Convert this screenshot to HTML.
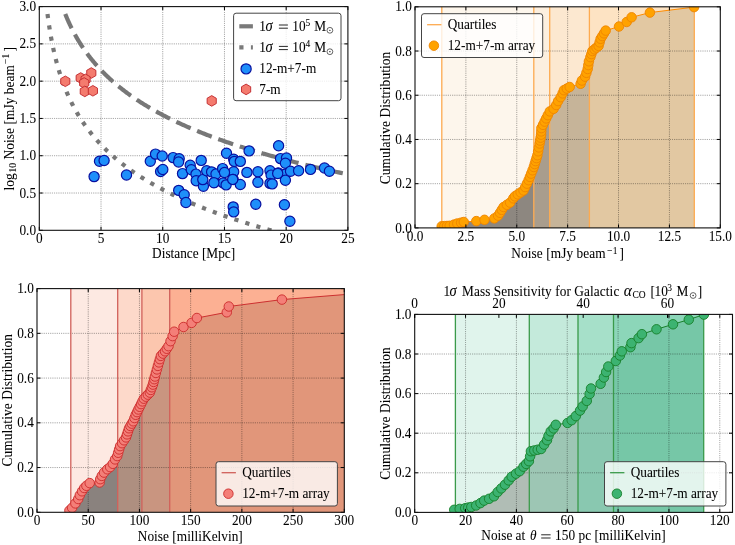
<!DOCTYPE html>
<html><head><meta charset="utf-8"><style>html,body{margin:0;padding:0;background:#fff}svg{display:block;will-change:transform}text{stroke:#000;stroke-width:0.05px}</style></head>
<body><svg width="735" height="545" viewBox="0 0 735 545" font-family='"Liberation Serif", serif' font-size="13.3" fill="#000">
<rect width="735" height="545" fill="#fff"/>
<path d="M101.02 6.60V230.30M162.74 6.60V230.30M224.46 6.60V230.30M286.18 6.60V230.30M39.30 193.02H347.90M39.30 155.73H347.90M39.30 118.45H347.90M39.30 81.17H347.90M39.30 43.88H347.90" stroke="#000" stroke-opacity="0.7" stroke-width="0.7" stroke-dasharray="0.7 1.15" fill="none"/>
<clipPath id="c1"><rect x="39.3" y="6.6" width="308.59999999999997" height="223.70000000000002"/></clipPath>
<g clip-path="url(#c1)">
<polyline points="65.22,13.93 65.22,13.93 65.40,14.39 65.58,14.84 65.77,15.29 65.95,15.74 66.14,16.19 66.33,16.64 66.52,17.09 66.71,17.55 66.90,18.00 67.09,18.45 67.29,18.90 67.48,19.35 67.68,19.80 67.88,20.25 68.08,20.71 68.28,21.16 68.48,21.61 68.68,22.06 68.89,22.51 69.10,22.96 69.31,23.41 69.52,23.87 69.73,24.32 69.94,24.77 70.15,25.22 70.37,25.67 70.59,26.12 70.81,26.57 71.03,27.03 71.25,27.48 71.47,27.93 71.70,28.38 71.92,28.83 72.15,29.28 72.38,29.73 72.61,30.19 72.85,30.64 73.08,31.09 73.32,31.54 73.55,31.99 73.79,32.44 74.04,32.89 74.28,33.35 74.52,33.80 74.77,34.25 75.02,34.70 75.27,35.15 75.52,35.60 75.77,36.05 76.03,36.51 76.28,36.96 76.54,37.41 76.80,37.86 77.07,38.31 77.33,38.76 77.60,39.22 77.86,39.67 78.13,40.12 78.41,40.57 78.68,41.02 78.95,41.47 79.23,41.92 79.51,42.38 79.79,42.83 80.08,43.28 80.36,43.73 80.65,44.18 80.94,44.63 81.23,45.08 81.52,45.54 81.82,45.99 82.11,46.44 82.41,46.89 82.72,47.34 83.02,47.79 83.32,48.24 83.63,48.70 83.94,49.15 84.25,49.60 84.57,50.05 84.89,50.50 85.20,50.95 85.53,51.40 85.85,51.86 86.17,52.31 86.50,52.76 86.83,53.21 87.17,53.66 87.50,54.11 87.84,54.56 88.18,55.02 88.52,55.47 88.86,55.92 89.21,56.37 89.56,56.82 89.91,57.27 90.26,57.72 90.62,58.18 90.98,58.63 91.34,59.08 91.71,59.53 92.07,59.98 92.44,60.43 92.81,60.88 93.19,61.34 93.56,61.79 93.94,62.24 94.33,62.69 94.71,63.14 95.10,63.59 95.49,64.04 95.88,64.50 96.28,64.95 96.68,65.40 97.08,65.85 97.48,66.30 97.89,66.75 98.30,67.20 98.71,67.66 99.13,68.11 99.54,68.56 99.97,69.01 100.39,69.46 100.82,69.91 101.25,70.36 101.68,70.82 102.12,71.27 102.56,71.72 103.00,72.17 103.44,72.62 103.89,73.07 104.35,73.53 104.80,73.98 105.26,74.43 105.72,74.88 106.18,75.33 106.65,75.78 107.12,76.23 107.60,76.69 108.08,77.14 108.56,77.59 109.04,78.04 109.53,78.49 110.02,78.94 110.51,79.39 111.01,79.85 111.51,80.30 112.02,80.75 112.53,81.20 113.04,81.65 113.56,82.10 114.08,82.55 114.60,83.01 115.13,83.46 115.66,83.91 116.19,84.36 116.73,84.81 117.27,85.26 117.81,85.71 118.36,86.17 118.92,86.62 119.47,87.07 120.03,87.52 120.60,87.97 121.17,88.42 121.74,88.87 122.32,89.33 122.90,89.78 123.48,90.23 124.07,90.68 124.66,91.13 125.26,91.58 125.86,92.03 126.47,92.49 127.08,92.94 127.69,93.39 128.31,93.84 128.93,94.29 129.56,94.74 130.19,95.19 130.83,95.65 131.47,96.10 132.11,96.55 132.76,97.00 133.41,97.45 134.07,97.90 134.74,98.35 135.40,98.81 136.07,99.26 136.75,99.71 137.43,100.16 138.12,100.61 138.81,101.06 139.51,101.51 140.21,101.97 140.91,102.42 141.62,102.87 142.34,103.32 143.06,103.77 143.79,104.22 144.52,104.67 145.25,105.13 145.99,105.58 146.74,106.03 147.49,106.48 148.25,106.93 149.01,107.38 149.78,107.83 150.55,108.29 151.33,108.74 152.11,109.19 152.90,109.64 153.70,110.09 154.50,110.54 155.30,111.00 156.11,111.45 156.93,111.90 157.75,112.35 158.58,112.80 159.42,113.25 160.26,113.70 161.10,114.16 161.95,114.61 162.81,115.06 163.68,115.51 164.55,115.96 165.42,116.41 166.30,116.86 167.19,117.32 168.09,117.77 168.99,118.22 169.90,118.67 170.81,119.12 171.73,119.57 172.66,120.02 173.59,120.48 174.53,120.93 175.47,121.38 176.43,121.83 177.38,122.28 178.35,122.73 179.32,123.18 180.30,123.64 181.29,124.09 182.28,124.54 183.28,124.99 184.29,125.44 185.30,125.89 186.32,126.34 187.35,126.80 188.39,127.25 189.43,127.70 190.48,128.15 191.54,128.60 192.60,129.05 193.68,129.50 194.76,129.96 195.84,130.41 196.94,130.86 198.04,131.31 199.15,131.76 200.27,132.21 201.40,132.66 202.53,133.12 203.67,133.57 204.82,134.02 205.98,134.47 207.14,134.92 208.32,135.37 209.50,135.82 210.69,136.28 211.89,136.73 213.10,137.18 214.31,137.63 215.54,138.08 216.77,138.53 218.01,138.98 219.26,139.44 220.52,139.89 221.79,140.34 223.06,140.79 224.35,141.24 225.64,141.69 226.95,142.14 228.26,142.60 229.58,143.05 230.91,143.50 232.25,143.95 233.60,144.40 234.96,144.85 236.33,145.31 237.71,145.76 239.09,146.21 240.49,146.66 241.90,147.11 243.32,147.56 244.74,148.01 246.18,148.47 247.63,148.92 249.08,149.37 250.55,149.82 252.03,150.27 253.52,150.72 255.02,151.17 256.52,151.63 258.04,152.08 259.57,152.53 261.12,152.98 262.67,153.43 264.23,153.88 265.80,154.33 267.39,154.79 268.98,155.24 270.59,155.69 272.21,156.14 273.84,156.59 275.48,157.04 277.13,157.49 278.79,157.95 280.47,158.40 282.15,158.85 283.85,159.30 285.56,159.75 287.28,160.20 289.02,160.65 290.77,161.11 292.53,161.56 294.30,162.01 296.08,162.46 297.88,162.91 299.68,163.36 301.51,163.81 303.34,164.27 305.19,164.72 307.05,165.17 308.92,165.62 310.81,166.07 312.70,166.52 314.62,166.97 316.54,167.43 318.48,167.88 320.43,168.33 322.40,168.78 324.38,169.23 326.37,169.68 328.38,170.13 330.40,170.59 332.44,171.04 334.49,171.49 336.56,171.94 338.64,172.39 340.73,172.84 342.84,173.29 344.96,173.75 347.10,174.20 349.25,174.65 351.42,175.10 353.60,175.55 355.80,176.00 358.01,176.45 360.24,176.91" fill="none" stroke="#777" stroke-width="4.2" stroke-dasharray="15.7 7.0" stroke-dashoffset="0.00"/>
<polyline points="47.50,13.95 47.52,14.11 47.60,14.75 47.68,15.39 47.77,16.03 47.85,16.67 47.94,17.31 48.02,17.95 48.11,18.59 48.20,19.23 48.28,19.87 48.37,20.51 48.46,21.15 48.55,21.79 48.65,22.43 48.74,23.07 48.83,23.71 48.93,24.35 49.02,24.99 49.12,25.63 49.22,26.27 49.31,26.91 49.41,27.55 49.51,28.19 49.62,28.83 49.72,29.47 49.82,30.11 49.93,30.75 50.03,31.39 50.14,32.03 50.25,32.67 50.35,33.31 50.46,33.95 50.57,34.59 50.69,35.23 50.80,35.87 50.91,36.51 51.03,37.15 51.15,37.79 51.26,38.43 51.38,39.06 51.50,39.70 51.62,40.34 51.75,40.98 51.87,41.62 51.99,42.26 52.12,42.90 52.25,43.54 52.38,44.18 52.51,44.82 52.64,45.46 52.77,46.10 52.90,46.74 53.04,47.38 53.17,48.02 53.31,48.66 53.45,49.30 53.59,49.94 53.73,50.58 53.88,51.22 54.02,51.86 54.17,52.50 54.32,53.14 54.46,53.78 54.61,54.42 54.77,55.06 54.92,55.70 55.08,56.34 55.23,56.98 55.39,57.62 55.55,58.26 55.71,58.90 55.87,59.54 56.04,60.18 56.20,60.82 56.37,61.46 56.54,62.10 56.71,62.74 56.89,63.38 57.06,64.02 57.24,64.66 57.41,65.30 57.59,65.94 57.78,66.58 57.96,67.22 58.15,67.86 58.33,68.49 58.52,69.13 58.71,69.77 58.90,70.41 59.10,71.05 59.30,71.69 59.49,72.33 59.69,72.97 59.90,73.61 60.10,74.25 60.31,74.89 60.52,75.53 60.73,76.17 60.94,76.81 61.15,77.45 61.37,78.09 61.59,78.73 61.81,79.37 62.04,80.01 62.26,80.65 62.49,81.29 62.72,81.93 62.95,82.57 63.19,83.21 63.42,83.85 63.66,84.49 63.91,85.13 64.15,85.77 64.40,86.41 64.65,87.05 64.90,87.69 65.15,88.33 65.41,88.97 65.67,89.61 65.93,90.25 66.19,90.89 66.46,91.53 66.73,92.17 67.00,92.81 67.28,93.45 67.55,94.09 67.83,94.73 68.12,95.37 68.40,96.01 68.69,96.65 68.99,97.29 69.28,97.92 69.58,98.56 69.88,99.20 70.18,99.84 70.49,100.48 70.80,101.12 71.11,101.76 71.43,102.40 71.74,103.04 72.07,103.68 72.39,104.32 72.72,104.96 73.05,105.60 73.39,106.24 73.73,106.88 74.07,107.52 74.41,108.16 74.76,108.80 75.11,109.44 75.47,110.08 75.83,110.72 76.19,111.36 76.56,112.00 76.93,112.64 77.30,113.28 77.68,113.92 78.06,114.56 78.44,115.20 78.83,115.84 79.22,116.48 79.62,117.12 80.02,117.76 80.43,118.40 80.83,119.04 81.25,119.68 81.66,120.32 82.08,120.96 82.51,121.60 82.94,122.24 83.37,122.88 83.81,123.52 84.25,124.16 84.69,124.80 85.15,125.44 85.60,126.08 86.06,126.72 86.52,127.36 86.99,127.99 87.47,128.63 87.94,129.27 88.43,129.91 88.92,130.55 89.41,131.19 89.91,131.83 90.41,132.47 90.92,133.11 91.43,133.75 91.95,134.39 92.47,135.03 93.00,135.67 93.53,136.31 94.07,136.95 94.61,137.59 95.16,138.23 95.71,138.87 96.27,139.51 96.84,140.15 97.41,140.79 97.99,141.43 98.57,142.07 99.16,142.71 99.75,143.35 100.35,143.99 100.96,144.63 101.57,145.27 102.19,145.91 102.81,146.55 103.44,147.19 104.08,147.83 104.72,148.47 105.37,149.11 106.03,149.75 106.69,150.39 107.36,151.03 108.04,151.67 108.72,152.31 109.41,152.95 110.10,153.59 110.81,154.23 111.52,154.87 112.23,155.51 112.96,156.15 113.69,156.79 114.43,157.42 115.17,158.06 115.93,158.70 116.69,159.34 117.46,159.98 118.23,160.62 119.01,161.26 119.81,161.90 120.61,162.54 121.41,163.18 122.23,163.82 123.05,164.46 123.88,165.10 124.72,165.74 125.57,166.38 126.43,167.02 127.29,167.66 128.16,168.30 129.05,168.94 129.94,169.58 130.84,170.22 131.75,170.86 132.66,171.50 133.59,172.14 134.53,172.78 135.47,173.42 136.43,174.06 137.39,174.70 138.36,175.34 139.35,175.98 140.34,176.62 141.34,177.26 142.36,177.90 143.38,178.54 144.41,179.18 145.46,179.82 146.51,180.46 147.58,181.10 148.65,181.74 149.74,182.38 150.83,183.02 151.94,183.66 153.06,184.30 154.19,184.94 155.33,185.58 156.48,186.22 157.64,186.85 158.82,187.49 160.00,188.13 161.20,188.77 162.41,189.41 163.63,190.05 164.87,190.69 166.11,191.33 167.37,191.97 168.64,192.61 169.93,193.25 171.23,193.89 172.54,194.53 173.86,195.17 175.19,195.81 176.54,196.45 177.90,197.09 179.28,197.73 180.67,198.37 182.07,199.01 183.49,199.65 184.92,200.29 186.37,200.93 187.83,201.57 189.30,202.21 190.79,202.85 192.30,203.49 193.81,204.13 195.35,204.77 196.90,205.41 198.46,206.05 200.04,206.69 201.64,207.33 203.25,207.97 204.88,208.61 206.52,209.25 208.18,209.89 209.86,210.53 211.55,211.17 213.26,211.81 214.99,212.45 216.73,213.09 218.49,213.73 220.27,214.37 222.07,215.01 223.88,215.65 225.71,216.28 227.56,216.92 229.43,217.56 231.32,218.20 233.23,218.84 235.15,219.48 237.10,220.12 239.06,220.76 241.04,221.40 243.05,222.04 245.07,222.68 247.11,223.32 249.17,223.96 251.26,224.60 253.36,225.24 255.49,225.88 257.63,226.52 259.80,227.16 261.99,227.80 264.20,228.44 266.43,229.08 268.69,229.72 270.96,230.36 273.26,231.00 275.59,231.64 277.93,232.28 280.30,232.92 282.69,233.56 285.11,234.20 287.55,234.84 290.01,235.48 292.50,236.12 295.02,236.76 297.56,237.40 300.12,238.04 302.71,238.68 305.32,239.32 307.96,239.96 310.63,240.60 313.32,241.24 316.04,241.88 318.79,242.52 321.57,243.16 324.37,243.80 327.20,244.44 330.06,245.08 332.94,245.71 335.86,246.35 338.80,246.99 341.77,247.63 344.78,248.27 347.81,248.91 350.87,249.55 353.97,250.19 357.09,250.83 360.24,251.47" fill="none" stroke="#777" stroke-width="4.2" stroke-dasharray="4.2 7.27" stroke-dashoffset="0.00"/>
<path d="M65.30,76.00L69.89,78.65L69.89,83.95L65.30,86.60L60.71,83.95L60.71,78.65Z" fill="#f47b6e" stroke="#c0262a" stroke-width="0.9"/>
<path d="M91.30,67.70L95.89,70.35L95.89,75.65L91.30,78.30L86.71,75.65L86.71,70.35Z" fill="#f47b6e" stroke="#c0262a" stroke-width="0.9"/>
<path d="M80.70,72.70L85.29,75.35L85.29,80.65L80.70,83.30L76.11,80.65L76.11,75.35Z" fill="#f47b6e" stroke="#c0262a" stroke-width="0.9"/>
<path d="M85.60,74.10L90.19,76.75L90.19,82.05L85.60,84.70L81.01,82.05L81.01,76.75Z" fill="#f47b6e" stroke="#c0262a" stroke-width="0.9"/>
<path d="M84.20,77.70L88.79,80.35L88.79,85.65L84.20,88.30L79.61,85.65L79.61,80.35Z" fill="#f47b6e" stroke="#c0262a" stroke-width="0.9"/>
<path d="M84.80,86.10L89.39,88.75L89.39,94.05L84.80,96.70L80.21,94.05L80.21,88.75Z" fill="#f47b6e" stroke="#c0262a" stroke-width="0.9"/>
<path d="M92.90,85.50L97.49,88.15L97.49,93.45L92.90,96.10L88.31,93.45L88.31,88.15Z" fill="#f47b6e" stroke="#c0262a" stroke-width="0.9"/>
<path d="M211.70,95.60L216.29,98.25L216.29,103.55L211.70,106.20L207.11,103.55L207.11,98.25Z" fill="#f47b6e" stroke="#c0262a" stroke-width="0.9"/>
<circle cx="94.1" cy="176.6" r="5.1" fill="#1e8ffa" stroke="#0810a0" stroke-width="1.2"/>
<circle cx="99.5" cy="161.2" r="5.1" fill="#1e8ffa" stroke="#0810a0" stroke-width="1.2"/>
<circle cx="104.1" cy="160.5" r="5.1" fill="#1e8ffa" stroke="#0810a0" stroke-width="1.2"/>
<circle cx="126.5" cy="175.0" r="5.1" fill="#1e8ffa" stroke="#0810a0" stroke-width="1.2"/>
<circle cx="150.3" cy="161.2" r="5.1" fill="#1e8ffa" stroke="#0810a0" stroke-width="1.2"/>
<circle cx="155.5" cy="154.1" r="5.1" fill="#1e8ffa" stroke="#0810a0" stroke-width="1.2"/>
<circle cx="162.2" cy="156.0" r="5.1" fill="#1e8ffa" stroke="#0810a0" stroke-width="1.2"/>
<circle cx="160.6" cy="171.5" r="5.1" fill="#1e8ffa" stroke="#0810a0" stroke-width="1.2"/>
<circle cx="162.8" cy="169.5" r="5.1" fill="#1e8ffa" stroke="#0810a0" stroke-width="1.2"/>
<circle cx="173.1" cy="157.6" r="5.1" fill="#1e8ffa" stroke="#0810a0" stroke-width="1.2"/>
<circle cx="179.2" cy="158.7" r="5.1" fill="#1e8ffa" stroke="#0810a0" stroke-width="1.2"/>
<circle cx="178.6" cy="162" r="5.1" fill="#1e8ffa" stroke="#0810a0" stroke-width="1.2"/>
<circle cx="182.5" cy="173.6" r="5.1" fill="#1e8ffa" stroke="#0810a0" stroke-width="1.2"/>
<circle cx="190.2" cy="165.3" r="5.1" fill="#1e8ffa" stroke="#0810a0" stroke-width="1.2"/>
<circle cx="191.3" cy="169.7" r="5.1" fill="#1e8ffa" stroke="#0810a0" stroke-width="1.2"/>
<circle cx="196" cy="174.1" r="5.1" fill="#1e8ffa" stroke="#0810a0" stroke-width="1.2"/>
<circle cx="196.2" cy="180.7" r="5.1" fill="#1e8ffa" stroke="#0810a0" stroke-width="1.2"/>
<circle cx="201.2" cy="160.4" r="5.1" fill="#1e8ffa" stroke="#0810a0" stroke-width="1.2"/>
<circle cx="203.4" cy="186.2" r="5.1" fill="#1e8ffa" stroke="#0810a0" stroke-width="1.2"/>
<circle cx="202.8" cy="179.6" r="5.1" fill="#1e8ffa" stroke="#0810a0" stroke-width="1.2"/>
<circle cx="206.7" cy="170.8" r="5.1" fill="#1e8ffa" stroke="#0810a0" stroke-width="1.2"/>
<circle cx="211.6" cy="171.9" r="5.1" fill="#1e8ffa" stroke="#0810a0" stroke-width="1.2"/>
<circle cx="214.4" cy="182.4" r="5.1" fill="#1e8ffa" stroke="#0810a0" stroke-width="1.2"/>
<circle cx="216" cy="174" r="5.1" fill="#1e8ffa" stroke="#0810a0" stroke-width="1.2"/>
<circle cx="222.6" cy="168.6" r="5.1" fill="#1e8ffa" stroke="#0810a0" stroke-width="1.2"/>
<circle cx="223.2" cy="182.9" r="5.1" fill="#1e8ffa" stroke="#0810a0" stroke-width="1.2"/>
<circle cx="226.5" cy="153.2" r="5.1" fill="#1e8ffa" stroke="#0810a0" stroke-width="1.2"/>
<circle cx="178.7" cy="190.4" r="5.1" fill="#1e8ffa" stroke="#0810a0" stroke-width="1.2"/>
<circle cx="184.2" cy="194.8" r="5.1" fill="#1e8ffa" stroke="#0810a0" stroke-width="1.2"/>
<circle cx="185.9" cy="202.5" r="5.1" fill="#1e8ffa" stroke="#0810a0" stroke-width="1.2"/>
<circle cx="249.1" cy="150.9" r="5.1" fill="#1e8ffa" stroke="#0810a0" stroke-width="1.2"/>
<circle cx="278.6" cy="145.7" r="5.1" fill="#1e8ffa" stroke="#0810a0" stroke-width="1.2"/>
<circle cx="233.7" cy="159.2" r="5.1" fill="#1e8ffa" stroke="#0810a0" stroke-width="1.2"/>
<circle cx="234.3" cy="161.4" r="5.1" fill="#1e8ffa" stroke="#0810a0" stroke-width="1.2"/>
<circle cx="240.3" cy="161.4" r="5.1" fill="#1e8ffa" stroke="#0810a0" stroke-width="1.2"/>
<circle cx="233.7" cy="171.8" r="5.1" fill="#1e8ffa" stroke="#0810a0" stroke-width="1.2"/>
<circle cx="246.9" cy="172.4" r="5.1" fill="#1e8ffa" stroke="#0810a0" stroke-width="1.2"/>
<circle cx="257.9" cy="171.8" r="5.1" fill="#1e8ffa" stroke="#0810a0" stroke-width="1.2"/>
<circle cx="233.2" cy="179.5" r="5.1" fill="#1e8ffa" stroke="#0810a0" stroke-width="1.2"/>
<circle cx="240.3" cy="184.5" r="5.1" fill="#1e8ffa" stroke="#0810a0" stroke-width="1.2"/>
<circle cx="257.9" cy="182.3" r="5.1" fill="#1e8ffa" stroke="#0810a0" stroke-width="1.2"/>
<circle cx="270" cy="170.7" r="5.1" fill="#1e8ffa" stroke="#0810a0" stroke-width="1.2"/>
<circle cx="271.1" cy="175.1" r="5.1" fill="#1e8ffa" stroke="#0810a0" stroke-width="1.2"/>
<circle cx="270" cy="183.4" r="5.1" fill="#1e8ffa" stroke="#0810a0" stroke-width="1.2"/>
<circle cx="278.3" cy="172.9" r="5.1" fill="#1e8ffa" stroke="#0810a0" stroke-width="1.2"/>
<circle cx="280.5" cy="158.6" r="5.1" fill="#1e8ffa" stroke="#0810a0" stroke-width="1.2"/>
<circle cx="286.5" cy="158" r="5.1" fill="#1e8ffa" stroke="#0810a0" stroke-width="1.2"/>
<circle cx="285.4" cy="163.3" r="5.1" fill="#1e8ffa" stroke="#0810a0" stroke-width="1.2"/>
<circle cx="285.4" cy="174.3" r="5.1" fill="#1e8ffa" stroke="#0810a0" stroke-width="1.2"/>
<circle cx="285.4" cy="180.3" r="5.1" fill="#1e8ffa" stroke="#0810a0" stroke-width="1.2"/>
<circle cx="290.5" cy="171.2" r="5.1" fill="#1e8ffa" stroke="#0810a0" stroke-width="1.2"/>
<circle cx="298.6" cy="170.7" r="5.1" fill="#1e8ffa" stroke="#0810a0" stroke-width="1.2"/>
<circle cx="310.5" cy="169.4" r="5.1" fill="#1e8ffa" stroke="#0810a0" stroke-width="1.2"/>
<circle cx="324.5" cy="168" r="5.1" fill="#1e8ffa" stroke="#0810a0" stroke-width="1.2"/>
<circle cx="329.4" cy="171.3" r="5.1" fill="#1e8ffa" stroke="#0810a0" stroke-width="1.2"/>
<circle cx="233.2" cy="206.9" r="5.1" fill="#1e8ffa" stroke="#0810a0" stroke-width="1.2"/>
<circle cx="233.7" cy="211.9" r="5.1" fill="#1e8ffa" stroke="#0810a0" stroke-width="1.2"/>
<circle cx="255.8" cy="204.2" r="5.1" fill="#1e8ffa" stroke="#0810a0" stroke-width="1.2"/>
<circle cx="284.4" cy="204.7" r="5.1" fill="#1e8ffa" stroke="#0810a0" stroke-width="1.2"/>
<circle cx="289.9" cy="221.2" r="5.1" fill="#1e8ffa" stroke="#0810a0" stroke-width="1.2"/>
<circle cx="213.9" cy="182.7" r="5.1" fill="#1e8ffa" stroke="#0810a0" stroke-width="1.2"/>
<circle cx="272.2" cy="183.9" r="5.1" fill="#1e8ffa" stroke="#0810a0" stroke-width="1.2"/>
<circle cx="277.7" cy="173.5" r="5.1" fill="#1e8ffa" stroke="#0810a0" stroke-width="1.2"/>
<circle cx="226.1" cy="184.9" r="5.1" fill="#1e8ffa" stroke="#0810a0" stroke-width="1.2"/>
<circle cx="232.7" cy="179.4" r="5.1" fill="#1e8ffa" stroke="#0810a0" stroke-width="1.2"/>
<circle cx="224.5" cy="172.5" r="5.1" fill="#1e8ffa" stroke="#0810a0" stroke-width="1.2"/>
</g>
<path d="M39.30 230.30v-3.5M39.30 6.60v3.5M101.02 230.30v-3.5M101.02 6.60v3.5M162.74 230.30v-3.5M162.74 6.60v3.5M224.46 230.30v-3.5M224.46 6.60v3.5M286.18 230.30v-3.5M286.18 6.60v3.5M347.90 230.30v-3.5M347.90 6.60v3.5M39.30 230.30h3.5M347.90 230.30h-3.5M39.30 193.02h3.5M347.90 193.02h-3.5M39.30 155.73h3.5M347.90 155.73h-3.5M39.30 118.45h3.5M347.90 118.45h-3.5M39.30 81.17h3.5M347.90 81.17h-3.5M39.30 43.88h3.5M347.90 43.88h-3.5M39.30 6.60h3.5M347.90 6.60h-3.5" stroke="#000" stroke-width="1" fill="none"/>
<rect x="39.30" y="6.60" width="308.60" height="223.70" fill="none" stroke="#111" stroke-width="1.1"/>
<text transform="translate(39.30 243.30) scale(1 1.08)" text-anchor="middle">0</text>
<text transform="translate(101.02 243.30) scale(1 1.08)" text-anchor="middle">5</text>
<text transform="translate(162.74 243.30) scale(1 1.08)" text-anchor="middle">10</text>
<text transform="translate(224.46 243.30) scale(1 1.08)" text-anchor="middle">15</text>
<text transform="translate(286.18 243.30) scale(1 1.08)" text-anchor="middle">20</text>
<text transform="translate(347.90 243.30) scale(1 1.08)" text-anchor="middle">25</text>
<text transform="translate(36.10 234.90) scale(1 1.08)" text-anchor="end">0.0</text>
<text transform="translate(36.10 197.62) scale(1 1.08)" text-anchor="end">0.5</text>
<text transform="translate(36.10 160.33) scale(1 1.08)" text-anchor="end">1.0</text>
<text transform="translate(36.10 123.05) scale(1 1.08)" text-anchor="end">1.5</text>
<text transform="translate(36.10 85.77) scale(1 1.08)" text-anchor="end">2.0</text>
<text transform="translate(36.10 48.48) scale(1 1.08)" text-anchor="end">2.5</text>
<text transform="translate(36.10 11.20) scale(1 1.08)" text-anchor="end">3.0</text>
<rect x="233.6" y="13.2" width="107.4" height="87.5" rx="2.5" fill="#fff" fill-opacity="0.8" stroke="#444" stroke-width="1"/>
<path d="M239.3 26.3H252.9" stroke="#7a7a7a" stroke-width="4.2"/>
<path d="M239.3 47.4H252.9" stroke="#7a7a7a" stroke-width="4.2" stroke-dasharray="4.2 7.4"/>
<circle cx="246.1" cy="68.9" r="5.1" fill="#1e8ffa" stroke="#0810a0" stroke-width="1.2"/>
<path d="M246.10,84.10L250.69,86.75L250.69,92.05L246.10,94.70L241.51,92.05L241.51,86.75Z" fill="#f47b6e" stroke="#c0262a" stroke-width="0.9"/>
<text transform="translate(259.20 30.60) scale(1 1.08)">1</text>
<text transform="translate(265.60 30.60) scale(1 1.08)" font-size="14.5" font-style="italic">σ</text>
<path d="M278.9 25.0H287.9M278.9 28.200000000000003H287.9" stroke="#000" stroke-width="0.85"/>
<text transform="translate(292.30 30.60) scale(1 1.08)">10</text>
<text transform="translate(305.40 26.00) scale(1 1.08)" font-size="9.5">5</text>
<text transform="translate(314.20 30.60) scale(1 1.08)">M</text>
<circle cx="329.9" cy="30.3" r="2.9" fill="none" stroke="#000" stroke-width="0.6"/><circle cx="329.9" cy="30.3" r="0.65"/>
<text transform="translate(259.20 52.00) scale(1 1.08)">1</text>
<text transform="translate(265.60 52.00) scale(1 1.08)" font-size="14.5" font-style="italic">σ</text>
<path d="M278.9 46.4H287.9M278.9 49.6H287.9" stroke="#000" stroke-width="0.85"/>
<text transform="translate(292.30 52.00) scale(1 1.08)">10</text>
<text transform="translate(305.40 47.40) scale(1 1.08)" font-size="9.5">4</text>
<text transform="translate(314.20 52.00) scale(1 1.08)">M</text>
<circle cx="329.9" cy="51.7" r="2.9" fill="none" stroke="#000" stroke-width="0.6"/><circle cx="329.9" cy="51.7" r="0.65"/>
<text transform="translate(259.30 73.00) scale(1 1.08)">12-m+7-m</text>
<text transform="translate(259.30 94.40) scale(1 1.08)">7-m</text>
<text transform="translate(193.60 258.20) scale(1 1.08)" text-anchor="middle">Distance [Mpc]</text>
<g transform="translate(13.6 0) rotate(-90)">
<text transform="translate(-190.40 0.00) scale(1 1.08)">log</text>
<text transform="translate(-172.40 2.60) scale(1 1.08)" font-size="9.5">10</text>
<text transform="translate(-159.40 0.00) scale(1 1.08)" textLength="94.3" lengthAdjust="spacing">Noise [mJy beam</text>
<text transform="translate(-63.90 -4.40) scale(1 1.08)" font-size="9.5">−1</text>
<text transform="translate(-51.40 0.00) scale(1 1.08)">]</text>
</g>
<clipPath id="c2"><rect x="415.0" y="6.8" width="305.29999999999995" height="221.1"/></clipPath>
<g clip-path="url(#c2)">
<rect x="441.8" y="6.8" width="91.99999999999994" height="221.1" fill="#fdf6ec"/>
<rect x="533.8" y="6.8" width="15.900000000000091" height="221.1" fill="#fcefdf"/>
<rect x="549.7" y="6.8" width="39.69999999999993" height="221.1" fill="#fce8d0"/>
<rect x="589.4" y="6.8" width="104.89999999999998" height="221.1" fill="#fde3c3"/>
<clipPath id="c2r0"><rect x="441.8" y="6.8" width="91.99999999999994" height="224.1"/></clipPath>
<polygon points="441.70,226.30 449.70,225.80 454.00,224.60 457.30,223.50 461.10,222.70 463.80,222.00 476.30,221.10 484.50,219.80 494.30,218.40 498.10,215.70 503.60,207.00 510.10,202.60 513.30,198.30 514.90,196.30 523.50,190.50 528.60,180.20 533.80,167.00 537.40,155.20 539.60,143.50 541.10,134.70 541.40,128.10 544.60,121.60 547.80,115.20 549.80,111.40 553.60,108.80 556.20,105.00 558.10,101.10 560.70,97.20 562.60,93.40 563.90,90.20 569.70,87.00 580.60,83.80 581.90,80.50 585.10,76.70 586.40,72.80 587.70,69.00 588.30,65.10 588.90,61.30 590.40,57.10 592.40,51.00 598.60,45.90 600.60,38.80 605.70,30.60 619.00,26.50 626.70,22.00 631.60,17.30 649.90,12.60 694.10,7.10 694.10,229.9 441.70,229.9" fill="#8d8780" clip-path="url(#c2r0)"/>
<clipPath id="c2r1"><rect x="533.8" y="6.8" width="15.900000000000091" height="224.1"/></clipPath>
<polygon points="441.70,226.30 449.70,225.80 454.00,224.60 457.30,223.50 461.10,222.70 463.80,222.00 476.30,221.10 484.50,219.80 494.30,218.40 498.10,215.70 503.60,207.00 510.10,202.60 513.30,198.30 514.90,196.30 523.50,190.50 528.60,180.20 533.80,167.00 537.40,155.20 539.60,143.50 541.10,134.70 541.40,128.10 544.60,121.60 547.80,115.20 549.80,111.40 553.60,108.80 556.20,105.00 558.10,101.10 560.70,97.20 562.60,93.40 563.90,90.20 569.70,87.00 580.60,83.80 581.90,80.50 585.10,76.70 586.40,72.80 587.70,69.00 588.30,65.10 588.90,61.30 590.40,57.10 592.40,51.00 598.60,45.90 600.60,38.80 605.70,30.60 619.00,26.50 626.70,22.00 631.60,17.30 649.90,12.60 694.10,7.10 694.10,229.9 441.70,229.9" fill="#a99d8d" clip-path="url(#c2r1)"/>
<clipPath id="c2r2"><rect x="549.7" y="6.8" width="39.69999999999993" height="224.1"/></clipPath>
<polygon points="441.70,226.30 449.70,225.80 454.00,224.60 457.30,223.50 461.10,222.70 463.80,222.00 476.30,221.10 484.50,219.80 494.30,218.40 498.10,215.70 503.60,207.00 510.10,202.60 513.30,198.30 514.90,196.30 523.50,190.50 528.60,180.20 533.80,167.00 537.40,155.20 539.60,143.50 541.10,134.70 541.40,128.10 544.60,121.60 547.80,115.20 549.80,111.40 553.60,108.80 556.20,105.00 558.10,101.10 560.70,97.20 562.60,93.40 563.90,90.20 569.70,87.00 580.60,83.80 581.90,80.50 585.10,76.70 586.40,72.80 587.70,69.00 588.30,65.10 588.90,61.30 590.40,57.10 592.40,51.00 598.60,45.90 600.60,38.80 605.70,30.60 619.00,26.50 626.70,22.00 631.60,17.30 649.90,12.60 694.10,7.10 694.10,229.9 441.70,229.9" fill="#c6b499" clip-path="url(#c2r2)"/>
<clipPath id="c2r3"><rect x="589.4" y="6.8" width="104.89999999999998" height="224.1"/></clipPath>
<polygon points="441.70,226.30 449.70,225.80 454.00,224.60 457.30,223.50 461.10,222.70 463.80,222.00 476.30,221.10 484.50,219.80 494.30,218.40 498.10,215.70 503.60,207.00 510.10,202.60 513.30,198.30 514.90,196.30 523.50,190.50 528.60,180.20 533.80,167.00 537.40,155.20 539.60,143.50 541.10,134.70 541.40,128.10 544.60,121.60 547.80,115.20 549.80,111.40 553.60,108.80 556.20,105.00 558.10,101.10 560.70,97.20 562.60,93.40 563.90,90.20 569.70,87.00 580.60,83.80 581.90,80.50 585.10,76.70 586.40,72.80 587.70,69.00 588.30,65.10 588.90,61.30 590.40,57.10 592.40,51.00 598.60,45.90 600.60,38.80 605.70,30.60 619.00,26.50 626.70,22.00 631.60,17.30 649.90,12.60 694.10,7.10 694.10,229.9 441.70,229.9" fill="#e2c8a2" clip-path="url(#c2r3)"/>
</g>
<path d="M465.88 6.80V227.90M516.77 6.80V227.90M567.65 6.80V227.90M618.53 6.80V227.90M669.42 6.80V227.90M415.00 183.68H720.30M415.00 139.46H720.30M415.00 95.24H720.30M415.00 51.02H720.30" stroke="#000" stroke-opacity="0.7" stroke-width="0.7" stroke-dasharray="0.7 1.15" fill="none"/>
<g clip-path="url(#c2)">
<path d="M441.8 6.8V227.9" stroke="#fdaa50" stroke-width="1.3"/>
<path d="M533.8 6.8V227.9" stroke="#fdaa50" stroke-width="1.3"/>
<path d="M549.7 6.8V227.9" stroke="#fdaa50" stroke-width="1.3"/>
<path d="M589.4 6.8V227.9" stroke="#fdaa50" stroke-width="1.3"/>
<path d="M694.3 6.8V227.9" stroke="#fdaa50" stroke-width="1.3"/>
<polyline points="441.70,226.30 449.70,225.80 454.00,224.60 457.30,223.50 461.10,222.70 463.80,222.00 476.30,221.10 484.50,219.80 494.30,218.40 498.10,215.70 503.60,207.00 510.10,202.60 513.30,198.30 514.90,196.30 523.50,190.50 528.60,180.20 533.80,167.00 537.40,155.20 539.60,143.50 541.10,134.70 541.40,128.10 544.60,121.60 547.80,115.20 549.80,111.40 553.60,108.80 556.20,105.00 558.10,101.10 560.70,97.20 562.60,93.40 563.90,90.20 569.70,87.00 580.60,83.80 581.90,80.50 585.10,76.70 586.40,72.80 587.70,69.00 588.30,65.10 588.90,61.30 590.40,57.10 592.40,51.00 598.60,45.90 600.60,38.80 605.70,30.60 619.00,26.50 626.70,22.00 631.60,17.30 649.90,12.60 694.10,7.10" fill="none" stroke="#ff8c00" stroke-width="1"/>
<circle cx="441.70" cy="226.30" r="4.75" fill="#ffa200" stroke="#ee8400" stroke-width="0.9"/>
<circle cx="444.37" cy="226.13" r="4.75" fill="#ffa200" stroke="#ee8400" stroke-width="0.9"/>
<circle cx="447.03" cy="225.97" r="4.75" fill="#ffa200" stroke="#ee8400" stroke-width="0.9"/>
<circle cx="449.70" cy="225.80" r="4.75" fill="#ffa200" stroke="#ee8400" stroke-width="0.9"/>
<circle cx="454.00" cy="224.60" r="4.75" fill="#ffa200" stroke="#ee8400" stroke-width="0.9"/>
<circle cx="457.30" cy="223.50" r="4.75" fill="#ffa200" stroke="#ee8400" stroke-width="0.9"/>
<circle cx="461.10" cy="222.70" r="4.75" fill="#ffa200" stroke="#ee8400" stroke-width="0.9"/>
<circle cx="463.80" cy="222.00" r="4.75" fill="#ffa200" stroke="#ee8400" stroke-width="0.9"/>
<circle cx="476.30" cy="221.10" r="4.75" fill="#ffa200" stroke="#ee8400" stroke-width="0.9"/>
<circle cx="484.50" cy="219.80" r="4.75" fill="#ffa200" stroke="#ee8400" stroke-width="0.9"/>
<circle cx="494.30" cy="218.40" r="4.75" fill="#ffa200" stroke="#ee8400" stroke-width="0.9"/>
<circle cx="498.10" cy="215.70" r="4.75" fill="#ffa200" stroke="#ee8400" stroke-width="0.9"/>
<circle cx="499.93" cy="212.80" r="4.75" fill="#ffa200" stroke="#ee8400" stroke-width="0.9"/>
<circle cx="501.77" cy="209.90" r="4.75" fill="#ffa200" stroke="#ee8400" stroke-width="0.9"/>
<circle cx="503.60" cy="207.00" r="4.75" fill="#ffa200" stroke="#ee8400" stroke-width="0.9"/>
<circle cx="506.85" cy="204.80" r="4.75" fill="#ffa200" stroke="#ee8400" stroke-width="0.9"/>
<circle cx="510.10" cy="202.60" r="4.75" fill="#ffa200" stroke="#ee8400" stroke-width="0.9"/>
<circle cx="513.30" cy="198.30" r="4.75" fill="#ffa200" stroke="#ee8400" stroke-width="0.9"/>
<circle cx="514.90" cy="196.30" r="4.75" fill="#ffa200" stroke="#ee8400" stroke-width="0.9"/>
<circle cx="517.77" cy="194.37" r="4.75" fill="#ffa200" stroke="#ee8400" stroke-width="0.9"/>
<circle cx="520.63" cy="192.43" r="4.75" fill="#ffa200" stroke="#ee8400" stroke-width="0.9"/>
<circle cx="523.50" cy="190.50" r="4.75" fill="#ffa200" stroke="#ee8400" stroke-width="0.9"/>
<circle cx="525.20" cy="187.07" r="4.75" fill="#ffa200" stroke="#ee8400" stroke-width="0.9"/>
<circle cx="526.90" cy="183.63" r="4.75" fill="#ffa200" stroke="#ee8400" stroke-width="0.9"/>
<circle cx="528.60" cy="180.20" r="4.75" fill="#ffa200" stroke="#ee8400" stroke-width="0.9"/>
<circle cx="529.90" cy="176.90" r="4.75" fill="#ffa200" stroke="#ee8400" stroke-width="0.9"/>
<circle cx="531.20" cy="173.60" r="4.75" fill="#ffa200" stroke="#ee8400" stroke-width="0.9"/>
<circle cx="532.50" cy="170.30" r="4.75" fill="#ffa200" stroke="#ee8400" stroke-width="0.9"/>
<circle cx="533.80" cy="167.00" r="4.75" fill="#ffa200" stroke="#ee8400" stroke-width="0.9"/>
<circle cx="534.70" cy="164.05" r="4.75" fill="#ffa200" stroke="#ee8400" stroke-width="0.9"/>
<circle cx="535.60" cy="161.10" r="4.75" fill="#ffa200" stroke="#ee8400" stroke-width="0.9"/>
<circle cx="536.50" cy="158.15" r="4.75" fill="#ffa200" stroke="#ee8400" stroke-width="0.9"/>
<circle cx="537.40" cy="155.20" r="4.75" fill="#ffa200" stroke="#ee8400" stroke-width="0.9"/>
<circle cx="538.13" cy="151.30" r="4.75" fill="#ffa200" stroke="#ee8400" stroke-width="0.9"/>
<circle cx="538.87" cy="147.40" r="4.75" fill="#ffa200" stroke="#ee8400" stroke-width="0.9"/>
<circle cx="539.60" cy="143.50" r="4.75" fill="#ffa200" stroke="#ee8400" stroke-width="0.9"/>
<circle cx="540.10" cy="140.57" r="4.75" fill="#ffa200" stroke="#ee8400" stroke-width="0.9"/>
<circle cx="540.60" cy="137.63" r="4.75" fill="#ffa200" stroke="#ee8400" stroke-width="0.9"/>
<circle cx="541.10" cy="134.70" r="4.75" fill="#ffa200" stroke="#ee8400" stroke-width="0.9"/>
<circle cx="541.25" cy="131.40" r="4.75" fill="#ffa200" stroke="#ee8400" stroke-width="0.9"/>
<circle cx="541.40" cy="128.10" r="4.75" fill="#ffa200" stroke="#ee8400" stroke-width="0.9"/>
<circle cx="543.00" cy="124.85" r="4.75" fill="#ffa200" stroke="#ee8400" stroke-width="0.9"/>
<circle cx="544.60" cy="121.60" r="4.75" fill="#ffa200" stroke="#ee8400" stroke-width="0.9"/>
<circle cx="546.20" cy="118.40" r="4.75" fill="#ffa200" stroke="#ee8400" stroke-width="0.9"/>
<circle cx="547.80" cy="115.20" r="4.75" fill="#ffa200" stroke="#ee8400" stroke-width="0.9"/>
<circle cx="549.80" cy="111.40" r="4.75" fill="#ffa200" stroke="#ee8400" stroke-width="0.9"/>
<circle cx="553.60" cy="108.80" r="4.75" fill="#ffa200" stroke="#ee8400" stroke-width="0.9"/>
<circle cx="556.20" cy="105.00" r="4.75" fill="#ffa200" stroke="#ee8400" stroke-width="0.9"/>
<circle cx="558.10" cy="101.10" r="4.75" fill="#ffa200" stroke="#ee8400" stroke-width="0.9"/>
<circle cx="560.70" cy="97.20" r="4.75" fill="#ffa200" stroke="#ee8400" stroke-width="0.9"/>
<circle cx="562.60" cy="93.40" r="4.75" fill="#ffa200" stroke="#ee8400" stroke-width="0.9"/>
<circle cx="563.90" cy="90.20" r="4.75" fill="#ffa200" stroke="#ee8400" stroke-width="0.9"/>
<circle cx="566.80" cy="88.60" r="4.75" fill="#ffa200" stroke="#ee8400" stroke-width="0.9"/>
<circle cx="569.70" cy="87.00" r="4.75" fill="#ffa200" stroke="#ee8400" stroke-width="0.9"/>
<circle cx="580.60" cy="83.80" r="4.75" fill="#ffa200" stroke="#ee8400" stroke-width="0.9"/>
<circle cx="581.90" cy="80.50" r="4.75" fill="#ffa200" stroke="#ee8400" stroke-width="0.9"/>
<circle cx="585.10" cy="76.70" r="4.75" fill="#ffa200" stroke="#ee8400" stroke-width="0.9"/>
<circle cx="586.40" cy="72.80" r="4.75" fill="#ffa200" stroke="#ee8400" stroke-width="0.9"/>
<circle cx="587.70" cy="69.00" r="4.75" fill="#ffa200" stroke="#ee8400" stroke-width="0.9"/>
<circle cx="588.30" cy="65.10" r="4.75" fill="#ffa200" stroke="#ee8400" stroke-width="0.9"/>
<circle cx="588.90" cy="61.30" r="4.75" fill="#ffa200" stroke="#ee8400" stroke-width="0.9"/>
<circle cx="590.40" cy="57.10" r="4.75" fill="#ffa200" stroke="#ee8400" stroke-width="0.9"/>
<circle cx="591.40" cy="54.05" r="4.75" fill="#ffa200" stroke="#ee8400" stroke-width="0.9"/>
<circle cx="592.40" cy="51.00" r="4.75" fill="#ffa200" stroke="#ee8400" stroke-width="0.9"/>
<circle cx="594.47" cy="49.30" r="4.75" fill="#ffa200" stroke="#ee8400" stroke-width="0.9"/>
<circle cx="596.53" cy="47.60" r="4.75" fill="#ffa200" stroke="#ee8400" stroke-width="0.9"/>
<circle cx="598.60" cy="45.90" r="4.75" fill="#ffa200" stroke="#ee8400" stroke-width="0.9"/>
<circle cx="599.60" cy="42.35" r="4.75" fill="#ffa200" stroke="#ee8400" stroke-width="0.9"/>
<circle cx="600.60" cy="38.80" r="4.75" fill="#ffa200" stroke="#ee8400" stroke-width="0.9"/>
<circle cx="602.30" cy="36.07" r="4.75" fill="#ffa200" stroke="#ee8400" stroke-width="0.9"/>
<circle cx="604.00" cy="33.33" r="4.75" fill="#ffa200" stroke="#ee8400" stroke-width="0.9"/>
<circle cx="605.70" cy="30.60" r="4.75" fill="#ffa200" stroke="#ee8400" stroke-width="0.9"/>
<circle cx="619.00" cy="26.50" r="4.75" fill="#ffa200" stroke="#ee8400" stroke-width="0.9"/>
<circle cx="626.70" cy="22.00" r="4.75" fill="#ffa200" stroke="#ee8400" stroke-width="0.9"/>
<circle cx="631.60" cy="17.30" r="4.75" fill="#ffa200" stroke="#ee8400" stroke-width="0.9"/>
<circle cx="649.90" cy="12.60" r="4.75" fill="#ffa200" stroke="#ee8400" stroke-width="0.9"/>
<circle cx="694.10" cy="7.10" r="4.75" fill="#ffa200" stroke="#ee8400" stroke-width="0.9"/>
</g>
<path d="M415.00 227.90v-3.5M415.00 6.80v3.5M465.88 227.90v-3.5M465.88 6.80v3.5M516.77 227.90v-3.5M516.77 6.80v3.5M567.65 227.90v-3.5M567.65 6.80v3.5M618.53 227.90v-3.5M618.53 6.80v3.5M669.42 227.90v-3.5M669.42 6.80v3.5M720.30 227.90v-3.5M720.30 6.80v3.5M415.00 227.90h3.5M720.30 227.90h-3.5M415.00 183.68h3.5M720.30 183.68h-3.5M415.00 139.46h3.5M720.30 139.46h-3.5M415.00 95.24h3.5M720.30 95.24h-3.5M415.00 51.02h3.5M720.30 51.02h-3.5M415.00 6.80h3.5M720.30 6.80h-3.5" stroke="#000" stroke-width="1" fill="none"/>
<rect x="415.00" y="6.80" width="305.30" height="221.10" fill="none" stroke="#111" stroke-width="1.1"/>
<text transform="translate(415.00 240.90) scale(1 1.08)" text-anchor="middle">0.0</text>
<text transform="translate(465.88 240.90) scale(1 1.08)" text-anchor="middle">2.5</text>
<text transform="translate(516.77 240.90) scale(1 1.08)" text-anchor="middle">5.0</text>
<text transform="translate(567.65 240.90) scale(1 1.08)" text-anchor="middle">7.5</text>
<text transform="translate(618.53 240.90) scale(1 1.08)" text-anchor="middle">10.0</text>
<text transform="translate(669.42 240.90) scale(1 1.08)" text-anchor="middle">12.5</text>
<text transform="translate(720.30 240.90) scale(1 1.08)" text-anchor="middle">15.0</text>
<text transform="translate(411.80 232.50) scale(1 1.08)" text-anchor="end">0.0</text>
<text transform="translate(411.80 188.28) scale(1 1.08)" text-anchor="end">0.2</text>
<text transform="translate(411.80 144.06) scale(1 1.08)" text-anchor="end">0.4</text>
<text transform="translate(411.80 99.84) scale(1 1.08)" text-anchor="end">0.6</text>
<text transform="translate(411.80 55.62) scale(1 1.08)" text-anchor="end">0.8</text>
<text transform="translate(411.80 11.40) scale(1 1.08)" text-anchor="end">1.0</text>
<rect x="421.5" y="13.7" width="121.2" height="43.8" rx="2.5" fill="#fff" fill-opacity="0.8" stroke="#444" stroke-width="1"/>
<path d="M427.1 24.7h14.3" stroke="#fdaa50" stroke-width="1.3"/>
<circle cx="433.9" cy="45.7" r="4.75" fill="#ffa200" stroke="#ee8400" stroke-width="0.9"/>
<text transform="translate(447.70 29.30) scale(1 1.08)">Quartiles</text>
<text transform="translate(447.70 49.90) scale(1 1.08)">12-m+7-m array</text>
<clipPath id="c3"><rect x="37.0" y="288.6" width="307.3" height="223.69999999999993"/></clipPath>
<g clip-path="url(#c3)">
<rect x="70.8" y="288.6" width="46.900000000000006" height="223.69999999999993" fill="#fde9e2"/>
<rect x="117.7" y="288.6" width="24.200000000000003" height="223.69999999999993" fill="#fdd9ca"/>
<rect x="141.9" y="288.6" width="27.799999999999983" height="223.69999999999993" fill="#fcc6ae"/>
<rect x="169.7" y="288.6" width="230.3" height="223.69999999999993" fill="#fcb093"/>
<clipPath id="c3r0"><rect x="70.8" y="288.6" width="46.900000000000006" height="226.69999999999993"/></clipPath>
<polygon points="69.40,510.60 72.10,507.80 75.40,503.40 78.20,499.00 79.80,495.20 82.00,491.30 84.20,488.00 86.40,485.80 89.70,483.10 99.60,482.50 100.20,479.20 101.80,475.90 104.00,472.60 107.30,469.30 110.10,467.10 112.80,463.80 115.00,459.40 117.20,456.10 120.10,446.10 126.00,437.40 129.00,428.30 133.20,421.30 135.70,414.80 139.70,406.80 143.80,398.70 149.80,392.60 152.90,384.60 154.90,376.50 156.90,369.40 158.90,362.40 160.90,355.90 165.00,351.30 168.50,346.20 170.50,341.20 172.60,336.10 174.20,331.70 183.50,327.00 191.60,322.90 196.90,318.00 226.80,312.30 228.80,306.50 281.90,299.60 420.00,288.50 420.00,514.3 69.40,514.3" fill="#8a827e" clip-path="url(#c3r0)"/>
<clipPath id="c3r1"><rect x="117.7" y="288.6" width="24.200000000000003" height="226.69999999999993"/></clipPath>
<polygon points="69.40,510.60 72.10,507.80 75.40,503.40 78.20,499.00 79.80,495.20 82.00,491.30 84.20,488.00 86.40,485.80 89.70,483.10 99.60,482.50 100.20,479.20 101.80,475.90 104.00,472.60 107.30,469.30 110.10,467.10 112.80,463.80 115.00,459.40 117.20,456.10 120.10,446.10 126.00,437.40 129.00,428.30 133.20,421.30 135.70,414.80 139.70,406.80 143.80,398.70 149.80,392.60 152.90,384.60 154.90,376.50 156.90,369.40 158.90,362.40 160.90,355.90 165.00,351.30 168.50,346.20 170.50,341.20 172.60,336.10 174.20,331.70 183.50,327.00 191.60,322.90 196.90,318.00 226.80,312.30 228.80,306.50 281.90,299.60 420.00,288.50 420.00,514.3 69.40,514.3" fill="#ae8f80" clip-path="url(#c3r1)"/>
<clipPath id="c3r2"><rect x="141.9" y="288.6" width="27.799999999999983" height="226.69999999999993"/></clipPath>
<polygon points="69.40,510.60 72.10,507.80 75.40,503.40 78.20,499.00 79.80,495.20 82.00,491.30 84.20,488.00 86.40,485.80 89.70,483.10 99.60,482.50 100.20,479.20 101.80,475.90 104.00,472.60 107.30,469.30 110.10,467.10 112.80,463.80 115.00,459.40 117.20,456.10 120.10,446.10 126.00,437.40 129.00,428.30 133.20,421.30 135.70,414.80 139.70,406.80 143.80,398.70 149.80,392.60 152.90,384.60 154.90,376.50 156.90,369.40 158.90,362.40 160.90,355.90 165.00,351.30 168.50,346.20 170.50,341.20 172.60,336.10 174.20,331.70 183.50,327.00 191.60,322.90 196.90,318.00 226.80,312.30 228.80,306.50 281.90,299.60 420.00,288.50 420.00,514.3 69.40,514.3" fill="#c99580" clip-path="url(#c3r2)"/>
<clipPath id="c3r3"><rect x="169.7" y="288.6" width="230.3" height="226.69999999999993"/></clipPath>
<polygon points="69.40,510.60 72.10,507.80 75.40,503.40 78.20,499.00 79.80,495.20 82.00,491.30 84.20,488.00 86.40,485.80 89.70,483.10 99.60,482.50 100.20,479.20 101.80,475.90 104.00,472.60 107.30,469.30 110.10,467.10 112.80,463.80 115.00,459.40 117.20,456.10 120.10,446.10 126.00,437.40 129.00,428.30 133.20,421.30 135.70,414.80 139.70,406.80 143.80,398.70 149.80,392.60 152.90,384.60 154.90,376.50 156.90,369.40 158.90,362.40 160.90,355.90 165.00,351.30 168.50,346.20 170.50,341.20 172.60,336.10 174.20,331.70 183.50,327.00 191.60,322.90 196.90,318.00 226.80,312.30 228.80,306.50 281.90,299.60 420.00,288.50 420.00,514.3 69.40,514.3" fill="#e1967a" clip-path="url(#c3r3)"/>
</g>
<path d="M88.22 288.60V512.30M139.43 288.60V512.30M190.65 288.60V512.30M241.87 288.60V512.30M293.08 288.60V512.30M37.00 467.56H344.30M37.00 422.82H344.30M37.00 378.08H344.30M37.00 333.34H344.30" stroke="#000" stroke-opacity="0.7" stroke-width="0.7" stroke-dasharray="0.7 1.15" fill="none"/>
<g clip-path="url(#c3)">
<path d="M70.8 288.6V512.3" stroke="#d0605a" stroke-width="1.3"/>
<path d="M117.7 288.6V512.3" stroke="#d0605a" stroke-width="1.3"/>
<path d="M141.9 288.6V512.3" stroke="#d0605a" stroke-width="1.3"/>
<path d="M169.7 288.6V512.3" stroke="#d0605a" stroke-width="1.3"/>
<path d="M400 288.6V512.3" stroke="#d0605a" stroke-width="1.3"/>
<polyline points="69.40,510.60 72.10,507.80 75.40,503.40 78.20,499.00 79.80,495.20 82.00,491.30 84.20,488.00 86.40,485.80 89.70,483.10 99.60,482.50 100.20,479.20 101.80,475.90 104.00,472.60 107.30,469.30 110.10,467.10 112.80,463.80 115.00,459.40 117.20,456.10 120.10,446.10 126.00,437.40 129.00,428.30 133.20,421.30 135.70,414.80 139.70,406.80 143.80,398.70 149.80,392.60 152.90,384.60 154.90,376.50 156.90,369.40 158.90,362.40 160.90,355.90 165.00,351.30 168.50,346.20 170.50,341.20 172.60,336.10 174.20,331.70 183.50,327.00 191.60,322.90 196.90,318.00 226.80,312.30 228.80,306.50 281.90,299.60 420.00,288.50" fill="none" stroke="#cc3030" stroke-width="1"/>
<circle cx="69.40" cy="510.60" r="4.75" fill="#f47f78" stroke="#cc2b2b" stroke-width="0.9"/>
<circle cx="72.10" cy="507.80" r="4.75" fill="#f47f78" stroke="#cc2b2b" stroke-width="0.9"/>
<circle cx="75.40" cy="503.40" r="4.75" fill="#f47f78" stroke="#cc2b2b" stroke-width="0.9"/>
<circle cx="78.20" cy="499.00" r="4.75" fill="#f47f78" stroke="#cc2b2b" stroke-width="0.9"/>
<circle cx="79.80" cy="495.20" r="4.75" fill="#f47f78" stroke="#cc2b2b" stroke-width="0.9"/>
<circle cx="82.00" cy="491.30" r="4.75" fill="#f47f78" stroke="#cc2b2b" stroke-width="0.9"/>
<circle cx="84.20" cy="488.00" r="4.75" fill="#f47f78" stroke="#cc2b2b" stroke-width="0.9"/>
<circle cx="86.40" cy="485.80" r="4.75" fill="#f47f78" stroke="#cc2b2b" stroke-width="0.9"/>
<circle cx="89.70" cy="483.10" r="4.75" fill="#f47f78" stroke="#cc2b2b" stroke-width="0.9"/>
<circle cx="99.60" cy="482.50" r="4.75" fill="#f47f78" stroke="#cc2b2b" stroke-width="0.9"/>
<circle cx="100.20" cy="479.20" r="4.75" fill="#f47f78" stroke="#cc2b2b" stroke-width="0.9"/>
<circle cx="101.80" cy="475.90" r="4.75" fill="#f47f78" stroke="#cc2b2b" stroke-width="0.9"/>
<circle cx="104.00" cy="472.60" r="4.75" fill="#f47f78" stroke="#cc2b2b" stroke-width="0.9"/>
<circle cx="107.30" cy="469.30" r="4.75" fill="#f47f78" stroke="#cc2b2b" stroke-width="0.9"/>
<circle cx="110.10" cy="467.10" r="4.75" fill="#f47f78" stroke="#cc2b2b" stroke-width="0.9"/>
<circle cx="112.80" cy="463.80" r="4.75" fill="#f47f78" stroke="#cc2b2b" stroke-width="0.9"/>
<circle cx="115.00" cy="459.40" r="4.75" fill="#f47f78" stroke="#cc2b2b" stroke-width="0.9"/>
<circle cx="117.20" cy="456.10" r="4.75" fill="#f47f78" stroke="#cc2b2b" stroke-width="0.9"/>
<circle cx="118.17" cy="452.77" r="4.75" fill="#f47f78" stroke="#cc2b2b" stroke-width="0.9"/>
<circle cx="119.13" cy="449.43" r="4.75" fill="#f47f78" stroke="#cc2b2b" stroke-width="0.9"/>
<circle cx="120.10" cy="446.10" r="4.75" fill="#f47f78" stroke="#cc2b2b" stroke-width="0.9"/>
<circle cx="122.07" cy="443.20" r="4.75" fill="#f47f78" stroke="#cc2b2b" stroke-width="0.9"/>
<circle cx="124.03" cy="440.30" r="4.75" fill="#f47f78" stroke="#cc2b2b" stroke-width="0.9"/>
<circle cx="126.00" cy="437.40" r="4.75" fill="#f47f78" stroke="#cc2b2b" stroke-width="0.9"/>
<circle cx="127.00" cy="434.37" r="4.75" fill="#f47f78" stroke="#cc2b2b" stroke-width="0.9"/>
<circle cx="128.00" cy="431.33" r="4.75" fill="#f47f78" stroke="#cc2b2b" stroke-width="0.9"/>
<circle cx="129.00" cy="428.30" r="4.75" fill="#f47f78" stroke="#cc2b2b" stroke-width="0.9"/>
<circle cx="130.40" cy="425.97" r="4.75" fill="#f47f78" stroke="#cc2b2b" stroke-width="0.9"/>
<circle cx="131.80" cy="423.63" r="4.75" fill="#f47f78" stroke="#cc2b2b" stroke-width="0.9"/>
<circle cx="133.20" cy="421.30" r="4.75" fill="#f47f78" stroke="#cc2b2b" stroke-width="0.9"/>
<circle cx="134.45" cy="418.05" r="4.75" fill="#f47f78" stroke="#cc2b2b" stroke-width="0.9"/>
<circle cx="135.70" cy="414.80" r="4.75" fill="#f47f78" stroke="#cc2b2b" stroke-width="0.9"/>
<circle cx="137.03" cy="412.13" r="4.75" fill="#f47f78" stroke="#cc2b2b" stroke-width="0.9"/>
<circle cx="138.37" cy="409.47" r="4.75" fill="#f47f78" stroke="#cc2b2b" stroke-width="0.9"/>
<circle cx="139.70" cy="406.80" r="4.75" fill="#f47f78" stroke="#cc2b2b" stroke-width="0.9"/>
<circle cx="141.07" cy="404.10" r="4.75" fill="#f47f78" stroke="#cc2b2b" stroke-width="0.9"/>
<circle cx="142.43" cy="401.40" r="4.75" fill="#f47f78" stroke="#cc2b2b" stroke-width="0.9"/>
<circle cx="143.80" cy="398.70" r="4.75" fill="#f47f78" stroke="#cc2b2b" stroke-width="0.9"/>
<circle cx="145.80" cy="396.67" r="4.75" fill="#f47f78" stroke="#cc2b2b" stroke-width="0.9"/>
<circle cx="147.80" cy="394.63" r="4.75" fill="#f47f78" stroke="#cc2b2b" stroke-width="0.9"/>
<circle cx="149.80" cy="392.60" r="4.75" fill="#f47f78" stroke="#cc2b2b" stroke-width="0.9"/>
<circle cx="150.83" cy="389.93" r="4.75" fill="#f47f78" stroke="#cc2b2b" stroke-width="0.9"/>
<circle cx="151.87" cy="387.27" r="4.75" fill="#f47f78" stroke="#cc2b2b" stroke-width="0.9"/>
<circle cx="152.90" cy="384.60" r="4.75" fill="#f47f78" stroke="#cc2b2b" stroke-width="0.9"/>
<circle cx="153.57" cy="381.90" r="4.75" fill="#f47f78" stroke="#cc2b2b" stroke-width="0.9"/>
<circle cx="154.23" cy="379.20" r="4.75" fill="#f47f78" stroke="#cc2b2b" stroke-width="0.9"/>
<circle cx="154.90" cy="376.50" r="4.75" fill="#f47f78" stroke="#cc2b2b" stroke-width="0.9"/>
<circle cx="155.90" cy="372.95" r="4.75" fill="#f47f78" stroke="#cc2b2b" stroke-width="0.9"/>
<circle cx="156.90" cy="369.40" r="4.75" fill="#f47f78" stroke="#cc2b2b" stroke-width="0.9"/>
<circle cx="157.90" cy="365.90" r="4.75" fill="#f47f78" stroke="#cc2b2b" stroke-width="0.9"/>
<circle cx="158.90" cy="362.40" r="4.75" fill="#f47f78" stroke="#cc2b2b" stroke-width="0.9"/>
<circle cx="159.90" cy="359.15" r="4.75" fill="#f47f78" stroke="#cc2b2b" stroke-width="0.9"/>
<circle cx="160.90" cy="355.90" r="4.75" fill="#f47f78" stroke="#cc2b2b" stroke-width="0.9"/>
<circle cx="162.95" cy="353.60" r="4.75" fill="#f47f78" stroke="#cc2b2b" stroke-width="0.9"/>
<circle cx="165.00" cy="351.30" r="4.75" fill="#f47f78" stroke="#cc2b2b" stroke-width="0.9"/>
<circle cx="166.75" cy="348.75" r="4.75" fill="#f47f78" stroke="#cc2b2b" stroke-width="0.9"/>
<circle cx="168.50" cy="346.20" r="4.75" fill="#f47f78" stroke="#cc2b2b" stroke-width="0.9"/>
<circle cx="170.50" cy="341.20" r="4.75" fill="#f47f78" stroke="#cc2b2b" stroke-width="0.9"/>
<circle cx="172.60" cy="336.10" r="4.75" fill="#f47f78" stroke="#cc2b2b" stroke-width="0.9"/>
<circle cx="174.20" cy="331.70" r="4.75" fill="#f47f78" stroke="#cc2b2b" stroke-width="0.9"/>
<circle cx="183.50" cy="327.00" r="4.75" fill="#f47f78" stroke="#cc2b2b" stroke-width="0.9"/>
<circle cx="191.60" cy="322.90" r="4.75" fill="#f47f78" stroke="#cc2b2b" stroke-width="0.9"/>
<circle cx="196.90" cy="318.00" r="4.75" fill="#f47f78" stroke="#cc2b2b" stroke-width="0.9"/>
<circle cx="226.80" cy="312.30" r="4.75" fill="#f47f78" stroke="#cc2b2b" stroke-width="0.9"/>
<circle cx="228.80" cy="306.50" r="4.75" fill="#f47f78" stroke="#cc2b2b" stroke-width="0.9"/>
<circle cx="281.90" cy="299.60" r="4.75" fill="#f47f78" stroke="#cc2b2b" stroke-width="0.9"/>
</g>
<path d="M37.00 512.30v-3.5M37.00 288.60v3.5M88.22 512.30v-3.5M88.22 288.60v3.5M139.43 512.30v-3.5M139.43 288.60v3.5M190.65 512.30v-3.5M190.65 288.60v3.5M241.87 512.30v-3.5M241.87 288.60v3.5M293.08 512.30v-3.5M293.08 288.60v3.5M344.30 512.30v-3.5M344.30 288.60v3.5M37.00 512.30h3.5M344.30 512.30h-3.5M37.00 467.56h3.5M344.30 467.56h-3.5M37.00 422.82h3.5M344.30 422.82h-3.5M37.00 378.08h3.5M344.30 378.08h-3.5M37.00 333.34h3.5M344.30 333.34h-3.5M37.00 288.60h3.5M344.30 288.60h-3.5" stroke="#000" stroke-width="1" fill="none"/>
<rect x="37.00" y="288.60" width="307.30" height="223.70" fill="none" stroke="#111" stroke-width="1.1"/>
<text transform="translate(37.00 525.30) scale(1 1.08)" text-anchor="middle">0</text>
<text transform="translate(88.22 525.30) scale(1 1.08)" text-anchor="middle">50</text>
<text transform="translate(139.43 525.30) scale(1 1.08)" text-anchor="middle">100</text>
<text transform="translate(190.65 525.30) scale(1 1.08)" text-anchor="middle">150</text>
<text transform="translate(241.87 525.30) scale(1 1.08)" text-anchor="middle">200</text>
<text transform="translate(293.08 525.30) scale(1 1.08)" text-anchor="middle">250</text>
<text transform="translate(344.30 525.30) scale(1 1.08)" text-anchor="middle">300</text>
<text transform="translate(33.80 516.90) scale(1 1.08)" text-anchor="end">0.0</text>
<text transform="translate(33.80 472.16) scale(1 1.08)" text-anchor="end">0.2</text>
<text transform="translate(33.80 427.42) scale(1 1.08)" text-anchor="end">0.4</text>
<text transform="translate(33.80 382.68) scale(1 1.08)" text-anchor="end">0.6</text>
<text transform="translate(33.80 337.94) scale(1 1.08)" text-anchor="end">0.8</text>
<text transform="translate(33.80 293.20) scale(1 1.08)" text-anchor="end">1.0</text>
<rect x="216" y="461.7" width="121.4" height="44.3" rx="2.5" fill="#fff" fill-opacity="0.8" stroke="#444" stroke-width="1"/>
<path d="M221.6 472.7h14.3" stroke="#d0605a" stroke-width="1.3"/>
<circle cx="228.4" cy="493.7" r="4.75" fill="#f47f78" stroke="#cc2b2b" stroke-width="0.9"/>
<text transform="translate(242.20 477.30) scale(1 1.08)">Quartiles</text>
<text transform="translate(242.20 497.90) scale(1 1.08)">12-m+7-m array</text>
<clipPath id="c4"><rect x="414.7" y="314.4" width="317.8" height="198.0"/></clipPath>
<g clip-path="url(#c4)">
<rect x="455.4" y="314.4" width="73.89999999999998" height="198.0" fill="#e0f4ec"/>
<rect x="529.3" y="314.4" width="48.700000000000045" height="198.0" fill="#c4eadb"/>
<rect x="578.0" y="314.4" width="35.5" height="198.0" fill="#a6e0c9"/>
<rect x="613.5" y="314.4" width="90.20000000000005" height="198.0" fill="#8cd6b9"/>
<clipPath id="c4r0"><rect x="455.4" y="314.4" width="73.89999999999998" height="201.0"/></clipPath>
<polygon points="454.20,509.80 459.70,508.90 465.20,508.20 471.30,507.00 476.20,505.50 480.50,503.10 484.20,500.60 489.10,498.80 494.00,496.30 497.70,492.00 501.30,488.40 505.00,484.70 508.70,480.40 511.70,476.70 516.00,473.70 519.70,471.20 523.50,466.70 528.90,461.20 530.10,456.30 530.90,451.20 541.10,449.00 544.10,444.60 547.00,440.20 548.50,435.80 550.70,431.40 553.60,428.40 555.80,424.80 567.50,423.00 571.70,420.20 575.80,416.10 580.00,410.60 582.70,406.40 586.80,400.90 589.60,394.00 591.00,388.50 600.60,383.80 603.90,377.50 606.10,372.00 608.30,366.50 615.80,361.00 619.90,355.50 621.80,351.30 630.40,347.20 631.50,343.10 638.60,338.10 641.90,334.20 656.50,329.30 673.00,324.30 688.80,319.60 703.90,314.60 703.90,514.4 454.20,514.4" fill="#b0bdb5" clip-path="url(#c4r0)"/>
<clipPath id="c4r1"><rect x="529.3" y="314.4" width="48.700000000000045" height="201.0"/></clipPath>
<polygon points="454.20,509.80 459.70,508.90 465.20,508.20 471.30,507.00 476.20,505.50 480.50,503.10 484.20,500.60 489.10,498.80 494.00,496.30 497.70,492.00 501.30,488.40 505.00,484.70 508.70,480.40 511.70,476.70 516.00,473.70 519.70,471.20 523.50,466.70 528.90,461.20 530.10,456.30 530.90,451.20 541.10,449.00 544.10,444.60 547.00,440.20 548.50,435.80 550.70,431.40 553.60,428.40 555.80,424.80 567.50,423.00 571.70,420.20 575.80,416.10 580.00,410.60 582.70,406.40 586.80,400.90 589.60,394.00 591.00,388.50 600.60,383.80 603.90,377.50 606.10,372.00 608.30,366.50 615.80,361.00 619.90,355.50 621.80,351.30 630.40,347.20 631.50,343.10 638.60,338.10 641.90,334.20 656.50,329.30 673.00,324.30 688.80,319.60 703.90,314.60 703.90,514.4 454.20,514.4" fill="#9dc6b4" clip-path="url(#c4r1)"/>
<clipPath id="c4r2"><rect x="578.0" y="314.4" width="35.5" height="201.0"/></clipPath>
<polygon points="454.20,509.80 459.70,508.90 465.20,508.20 471.30,507.00 476.20,505.50 480.50,503.10 484.20,500.60 489.10,498.80 494.00,496.30 497.70,492.00 501.30,488.40 505.00,484.70 508.70,480.40 511.70,476.70 516.00,473.70 519.70,471.20 523.50,466.70 528.90,461.20 530.10,456.30 530.90,451.20 541.10,449.00 544.10,444.60 547.00,440.20 548.50,435.80 550.70,431.40 553.60,428.40 555.80,424.80 567.50,423.00 571.70,420.20 575.80,416.10 580.00,410.60 582.70,406.40 586.80,400.90 589.60,394.00 591.00,388.50 600.60,383.80 603.90,377.50 606.10,372.00 608.30,366.50 615.80,361.00 619.90,355.50 621.80,351.30 630.40,347.20 631.50,343.10 638.60,338.10 641.90,334.20 656.50,329.30 673.00,324.30 688.80,319.60 703.90,314.60 703.90,514.4 454.20,514.4" fill="#89c8b0" clip-path="url(#c4r2)"/>
<clipPath id="c4r3"><rect x="613.5" y="314.4" width="90.20000000000005" height="201.0"/></clipPath>
<polygon points="454.20,509.80 459.70,508.90 465.20,508.20 471.30,507.00 476.20,505.50 480.50,503.10 484.20,500.60 489.10,498.80 494.00,496.30 497.70,492.00 501.30,488.40 505.00,484.70 508.70,480.40 511.70,476.70 516.00,473.70 519.70,471.20 523.50,466.70 528.90,461.20 530.10,456.30 530.90,451.20 541.10,449.00 544.10,444.60 547.00,440.20 548.50,435.80 550.70,431.40 553.60,428.40 555.80,424.80 567.50,423.00 571.70,420.20 575.80,416.10 580.00,410.60 582.70,406.40 586.80,400.90 589.60,394.00 591.00,388.50 600.60,383.80 603.90,377.50 606.10,372.00 608.30,366.50 615.80,361.00 619.90,355.50 621.80,351.30 630.40,347.20 631.50,343.10 638.60,338.10 641.90,334.20 656.50,329.30 673.00,324.30 688.80,319.60 703.90,314.60 703.90,514.4 454.20,514.4" fill="#76c7a7" clip-path="url(#c4r3)"/>
</g>
<path d="M465.55 314.40V512.40M516.40 314.40V512.40M567.24 314.40V512.40M618.09 314.40V512.40M668.94 314.40V512.40M719.79 314.40V512.40M414.70 472.80H732.50M414.70 433.20H732.50M414.70 393.60H732.50M414.70 354.00H732.50" stroke="#000" stroke-opacity="0.7" stroke-width="0.7" stroke-dasharray="0.7 1.15" fill="none"/>
<g clip-path="url(#c4)">
<path d="M455.4 314.4V512.4" stroke="#3a9a4a" stroke-width="1.3"/>
<path d="M529.3 314.4V512.4" stroke="#3a9a4a" stroke-width="1.3"/>
<path d="M578.0 314.4V512.4" stroke="#3a9a4a" stroke-width="1.3"/>
<path d="M613.5 314.4V512.4" stroke="#3a9a4a" stroke-width="1.3"/>
<path d="M703.7 314.4V512.4" stroke="#3a9a4a" stroke-width="1.3"/>
<polyline points="454.20,509.80 459.70,508.90 465.20,508.20 471.30,507.00 476.20,505.50 480.50,503.10 484.20,500.60 489.10,498.80 494.00,496.30 497.70,492.00 501.30,488.40 505.00,484.70 508.70,480.40 511.70,476.70 516.00,473.70 519.70,471.20 523.50,466.70 528.90,461.20 530.10,456.30 530.90,451.20 541.10,449.00 544.10,444.60 547.00,440.20 548.50,435.80 550.70,431.40 553.60,428.40 555.80,424.80 567.50,423.00 571.70,420.20 575.80,416.10 580.00,410.60 582.70,406.40 586.80,400.90 589.60,394.00 591.00,388.50 600.60,383.80 603.90,377.50 606.10,372.00 608.30,366.50 615.80,361.00 619.90,355.50 621.80,351.30 630.40,347.20 631.50,343.10 638.60,338.10 641.90,334.20 656.50,329.30 673.00,324.30 688.80,319.60 703.90,314.60" fill="none" stroke="#17802a" stroke-width="1"/>
<circle cx="454.20" cy="509.80" r="4.75" fill="#3cb371" stroke="#17802a" stroke-width="0.9"/>
<circle cx="459.70" cy="508.90" r="4.75" fill="#3cb371" stroke="#17802a" stroke-width="0.9"/>
<circle cx="465.20" cy="508.20" r="4.75" fill="#3cb371" stroke="#17802a" stroke-width="0.9"/>
<circle cx="468.25" cy="507.60" r="4.75" fill="#3cb371" stroke="#17802a" stroke-width="0.9"/>
<circle cx="471.30" cy="507.00" r="4.75" fill="#3cb371" stroke="#17802a" stroke-width="0.9"/>
<circle cx="476.20" cy="505.50" r="4.75" fill="#3cb371" stroke="#17802a" stroke-width="0.9"/>
<circle cx="480.50" cy="503.10" r="4.75" fill="#3cb371" stroke="#17802a" stroke-width="0.9"/>
<circle cx="484.20" cy="500.60" r="4.75" fill="#3cb371" stroke="#17802a" stroke-width="0.9"/>
<circle cx="489.10" cy="498.80" r="4.75" fill="#3cb371" stroke="#17802a" stroke-width="0.9"/>
<circle cx="494.00" cy="496.30" r="4.75" fill="#3cb371" stroke="#17802a" stroke-width="0.9"/>
<circle cx="497.70" cy="492.00" r="4.75" fill="#3cb371" stroke="#17802a" stroke-width="0.9"/>
<circle cx="501.30" cy="488.40" r="4.75" fill="#3cb371" stroke="#17802a" stroke-width="0.9"/>
<circle cx="505.00" cy="484.70" r="4.75" fill="#3cb371" stroke="#17802a" stroke-width="0.9"/>
<circle cx="508.70" cy="480.40" r="4.75" fill="#3cb371" stroke="#17802a" stroke-width="0.9"/>
<circle cx="511.70" cy="476.70" r="4.75" fill="#3cb371" stroke="#17802a" stroke-width="0.9"/>
<circle cx="516.00" cy="473.70" r="4.75" fill="#3cb371" stroke="#17802a" stroke-width="0.9"/>
<circle cx="519.70" cy="471.20" r="4.75" fill="#3cb371" stroke="#17802a" stroke-width="0.9"/>
<circle cx="523.50" cy="466.70" r="4.75" fill="#3cb371" stroke="#17802a" stroke-width="0.9"/>
<circle cx="526.20" cy="463.95" r="4.75" fill="#3cb371" stroke="#17802a" stroke-width="0.9"/>
<circle cx="528.90" cy="461.20" r="4.75" fill="#3cb371" stroke="#17802a" stroke-width="0.9"/>
<circle cx="530.10" cy="456.30" r="4.75" fill="#3cb371" stroke="#17802a" stroke-width="0.9"/>
<circle cx="530.90" cy="451.20" r="4.75" fill="#3cb371" stroke="#17802a" stroke-width="0.9"/>
<circle cx="534.30" cy="450.47" r="4.75" fill="#3cb371" stroke="#17802a" stroke-width="0.9"/>
<circle cx="537.70" cy="449.73" r="4.75" fill="#3cb371" stroke="#17802a" stroke-width="0.9"/>
<circle cx="541.10" cy="449.00" r="4.75" fill="#3cb371" stroke="#17802a" stroke-width="0.9"/>
<circle cx="544.10" cy="444.60" r="4.75" fill="#3cb371" stroke="#17802a" stroke-width="0.9"/>
<circle cx="547.00" cy="440.20" r="4.75" fill="#3cb371" stroke="#17802a" stroke-width="0.9"/>
<circle cx="548.50" cy="435.80" r="4.75" fill="#3cb371" stroke="#17802a" stroke-width="0.9"/>
<circle cx="550.70" cy="431.40" r="4.75" fill="#3cb371" stroke="#17802a" stroke-width="0.9"/>
<circle cx="553.60" cy="428.40" r="4.75" fill="#3cb371" stroke="#17802a" stroke-width="0.9"/>
<circle cx="555.80" cy="424.80" r="4.75" fill="#3cb371" stroke="#17802a" stroke-width="0.9"/>
<circle cx="567.50" cy="423.00" r="4.75" fill="#3cb371" stroke="#17802a" stroke-width="0.9"/>
<circle cx="571.70" cy="420.20" r="4.75" fill="#3cb371" stroke="#17802a" stroke-width="0.9"/>
<circle cx="575.80" cy="416.10" r="4.75" fill="#3cb371" stroke="#17802a" stroke-width="0.9"/>
<circle cx="580.00" cy="410.60" r="4.75" fill="#3cb371" stroke="#17802a" stroke-width="0.9"/>
<circle cx="582.70" cy="406.40" r="4.75" fill="#3cb371" stroke="#17802a" stroke-width="0.9"/>
<circle cx="586.80" cy="400.90" r="4.75" fill="#3cb371" stroke="#17802a" stroke-width="0.9"/>
<circle cx="589.60" cy="394.00" r="4.75" fill="#3cb371" stroke="#17802a" stroke-width="0.9"/>
<circle cx="591.00" cy="388.50" r="4.75" fill="#3cb371" stroke="#17802a" stroke-width="0.9"/>
<circle cx="600.60" cy="383.80" r="4.75" fill="#3cb371" stroke="#17802a" stroke-width="0.9"/>
<circle cx="603.90" cy="377.50" r="4.75" fill="#3cb371" stroke="#17802a" stroke-width="0.9"/>
<circle cx="606.10" cy="372.00" r="4.75" fill="#3cb371" stroke="#17802a" stroke-width="0.9"/>
<circle cx="608.30" cy="366.50" r="4.75" fill="#3cb371" stroke="#17802a" stroke-width="0.9"/>
<circle cx="615.80" cy="361.00" r="4.75" fill="#3cb371" stroke="#17802a" stroke-width="0.9"/>
<circle cx="619.90" cy="355.50" r="4.75" fill="#3cb371" stroke="#17802a" stroke-width="0.9"/>
<circle cx="621.80" cy="351.30" r="4.75" fill="#3cb371" stroke="#17802a" stroke-width="0.9"/>
<circle cx="630.40" cy="347.20" r="4.75" fill="#3cb371" stroke="#17802a" stroke-width="0.9"/>
<circle cx="631.50" cy="343.10" r="4.75" fill="#3cb371" stroke="#17802a" stroke-width="0.9"/>
<circle cx="638.60" cy="338.10" r="4.75" fill="#3cb371" stroke="#17802a" stroke-width="0.9"/>
<circle cx="641.90" cy="334.20" r="4.75" fill="#3cb371" stroke="#17802a" stroke-width="0.9"/>
<circle cx="656.50" cy="329.30" r="4.75" fill="#3cb371" stroke="#17802a" stroke-width="0.9"/>
<circle cx="673.00" cy="324.30" r="4.75" fill="#3cb371" stroke="#17802a" stroke-width="0.9"/>
<circle cx="688.80" cy="319.60" r="4.75" fill="#3cb371" stroke="#17802a" stroke-width="0.9"/>
<circle cx="703.90" cy="314.60" r="4.75" fill="#3cb371" stroke="#17802a" stroke-width="0.9"/>
</g>
<path d="M414.70 512.40v-3.5M414.70 314.40v3.5M465.55 512.40v-3.5M465.55 314.40v3.5M516.40 512.40v-3.5M516.40 314.40v3.5M567.24 512.40v-3.5M567.24 314.40v3.5M618.09 512.40v-3.5M618.09 314.40v3.5M668.94 512.40v-3.5M668.94 314.40v3.5M719.79 512.40v-3.5M719.79 314.40v3.5M414.70 512.40h3.5M732.50 512.40h-3.5M414.70 472.80h3.5M732.50 472.80h-3.5M414.70 433.20h3.5M732.50 433.20h-3.5M414.70 393.60h3.5M732.50 393.60h-3.5M414.70 354.00h3.5M732.50 354.00h-3.5M414.70 314.40h3.5M732.50 314.40h-3.5" stroke="#000" stroke-width="1" fill="none"/>
<rect x="414.70" y="314.40" width="317.80" height="198.00" fill="none" stroke="#111" stroke-width="1.1"/>
<text transform="translate(414.70 525.40) scale(1 1.08)" text-anchor="middle">0</text>
<text transform="translate(465.55 525.40) scale(1 1.08)" text-anchor="middle">20</text>
<text transform="translate(516.40 525.40) scale(1 1.08)" text-anchor="middle">40</text>
<text transform="translate(567.24 525.40) scale(1 1.08)" text-anchor="middle">60</text>
<text transform="translate(618.09 525.40) scale(1 1.08)" text-anchor="middle">80</text>
<text transform="translate(668.94 525.40) scale(1 1.08)" text-anchor="middle">100</text>
<text transform="translate(719.79 525.40) scale(1 1.08)" text-anchor="middle">120</text>
<text transform="translate(411.50 517.00) scale(1 1.08)" text-anchor="end">0.0</text>
<text transform="translate(411.50 477.40) scale(1 1.08)" text-anchor="end">0.2</text>
<text transform="translate(411.50 437.80) scale(1 1.08)" text-anchor="end">0.4</text>
<text transform="translate(411.50 398.20) scale(1 1.08)" text-anchor="end">0.6</text>
<text transform="translate(411.50 358.60) scale(1 1.08)" text-anchor="end">0.8</text>
<text transform="translate(411.50 319.00) scale(1 1.08)" text-anchor="end">1.0</text>
<rect x="604.5" y="461.7" width="121.4" height="44.3" rx="2.5" fill="#fff" fill-opacity="0.8" stroke="#444" stroke-width="1"/>
<path d="M610.1 472.7h14.3" stroke="#3a9a4a" stroke-width="1.3"/>
<circle cx="616.9" cy="493.7" r="4.75" fill="#3cb371" stroke="#17802a" stroke-width="0.9"/>
<text transform="translate(630.70 477.30) scale(1 1.08)">Quartiles</text>
<text transform="translate(630.70 497.90) scale(1 1.08)">12-m+7-m array</text>
<text transform="translate(511.20 258.20) scale(1 1.08)" textLength="94.5" lengthAdjust="spacing">Noise [mJy beam</text>
<text transform="translate(607.30 253.80) scale(1 1.08)" font-size="9.5">−1</text>
<text transform="translate(619.50 258.20) scale(1 1.08)">]</text>
<text transform="translate(190.30 540.80) scale(1 1.08)" text-anchor="middle" textLength="105" lengthAdjust="spacing">Noise [milliKelvin]</text>
<text transform="translate(481.30 540.40) scale(1 1.08)">Noise at</text>
<text transform="translate(530.00 540.40) scale(1 1.08)" font-style="italic">θ</text>
<path d="M541.2 534.8H550.6M541.2 538.0H550.6" stroke="#000" stroke-width="0.85"/>
<text transform="translate(555.00 540.40) scale(1 1.08)" textLength="110.6" lengthAdjust="spacing">150 pc [milliKelvin]</text>
<g transform="translate(389.8 118.0) rotate(-90)">
<text transform="translate(0.00 0.00) scale(1 1.08)" text-anchor="middle" textLength="132.5" lengthAdjust="spacing">Cumulative Distribution</text>
</g>
<g transform="translate(11.9 400.3) rotate(-90)">
<text transform="translate(0.00 0.00) scale(1 1.08)" text-anchor="middle" textLength="132.5" lengthAdjust="spacing">Cumulative Distribution</text>
</g>
<g transform="translate(389.8 413.6) rotate(-90)">
<text transform="translate(0.00 0.00) scale(1 1.08)" text-anchor="middle" textLength="132.5" lengthAdjust="spacing">Cumulative Distribution</text>
</g>
<path d="M414.60 314.4v3.5" stroke="#000" stroke-width="1"/>
<text transform="translate(414.60 308.10) scale(1 1.08)" text-anchor="middle">0</text>
<path d="M498.90 314.4v3.5" stroke="#000" stroke-width="1"/>
<text transform="translate(498.90 308.10) scale(1 1.08)" text-anchor="middle">20</text>
<path d="M583.20 314.4v3.5" stroke="#000" stroke-width="1"/>
<text transform="translate(583.20 308.10) scale(1 1.08)" text-anchor="middle">40</text>
<path d="M667.50 314.4v3.5" stroke="#000" stroke-width="1"/>
<text transform="translate(667.50 308.10) scale(1 1.08)" text-anchor="middle">60</text>
<text transform="translate(443.50 296.00) scale(1 1.08)">1</text>
<text transform="translate(449.60 296.00) scale(1 1.08)" font-size="14.5" font-style="italic">σ</text>
<text transform="translate(462.00 296.00) scale(1 1.08)" textLength="157.3" lengthAdjust="spacing">Mass Sensitivity for Galactic</text>
<text transform="translate(623.80 296.00) scale(1 1.08)" font-size="15.5" font-style="italic">α</text>
<text transform="translate(632.40 297.60) scale(1 1.08)" font-size="9.5">CO</text>
<text transform="translate(650.40 296.00) scale(1 1.08)">[</text>
<text transform="translate(654.50 296.00) scale(1 1.08)">10</text>
<text transform="translate(667.30 291.40) scale(1 1.08)" font-size="9.5">3</text>
<text transform="translate(676.40 296.00) scale(1 1.08)">M</text>
<circle cx="693.1" cy="295.5" r="2.9" fill="none" stroke="#000" stroke-width="0.6"/><circle cx="693.1" cy="295.5" r="0.65"/>
<text transform="translate(697.80 296.00) scale(1 1.08)">]</text>
</svg></body></html>
